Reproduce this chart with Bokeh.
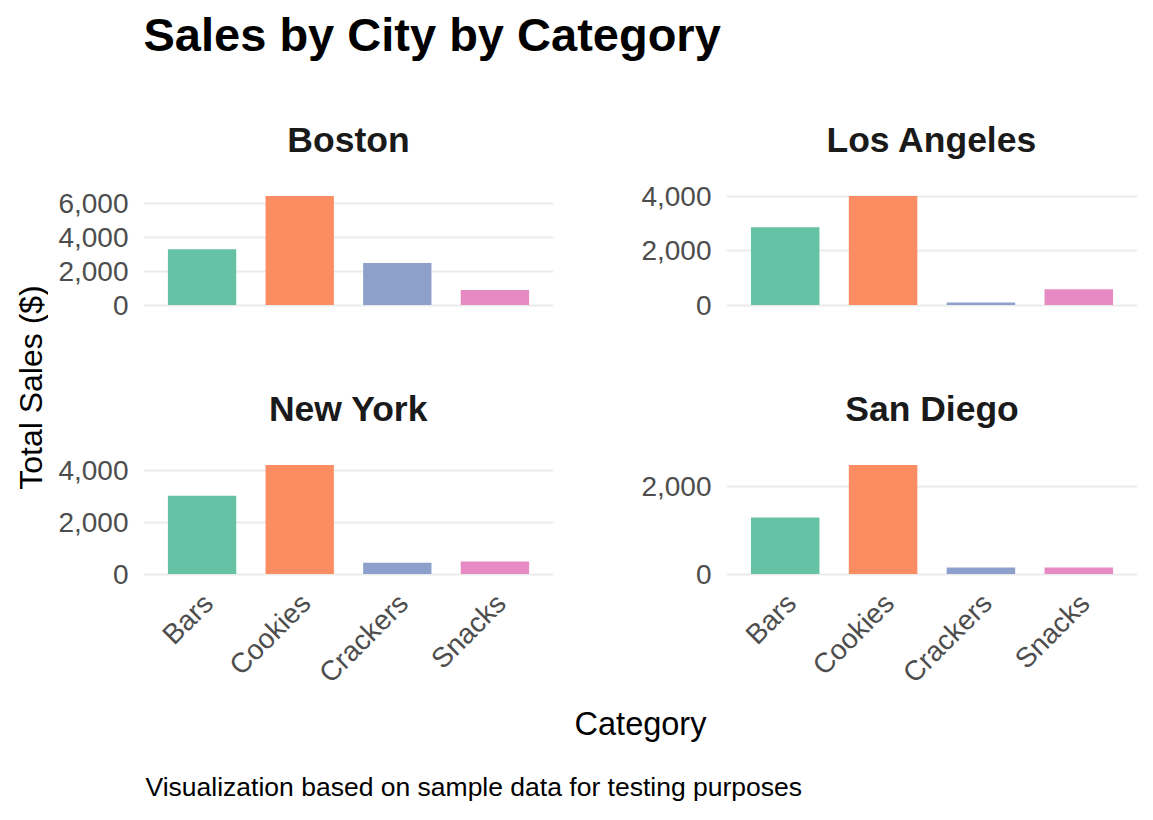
import math
from bokeh.plotting import figure
from bokeh.layouts import row, column
from bokeh.models import (Range1d, FixedTicker, NumeralTickFormatter,
                          ColumnDataSource, LinearAxis)
from bokeh.core.properties import value
from bokeh.embed import file_html
from bokeh.resources import INLINE

# ---- data ----
categories = ["Bars", "Cookies", "Crackers", "Snacks"]
cities = ["Boston", "Los Angeles", "New York", "San Diego"]
boston = [3300, 6450, 2490, 890]
los_angeles = [2860, 4010, 90, 580]
new_york = [3030, 4220, 440, 490]
san_diego = [1290, 2490, 150, 150]
colors = ["#66C2A5", "#FC8D62", "#8DA0CB", "#E78AC3"]
ticks_boston = [0, 2000, 4000, 6000]
ticks_los_angeles = [0, 2000, 4000]
ticks_new_york = [0, 2000, 4000]
ticks_san_diego = [0, 2000]

title_text = "Sales by City by Category"
y_label = "Total Sales ($)"
x_label = "Category"
caption = "Visualization based on sample data for testing purposes"

FONT = "Liberation Sans"
TICK_COLOR = "#4d4d4d"


def panel(city, vals, ticks, show_x, bl, br, bt, bb, fw, fh):
    ymax = max(vals)
    n = len(categories)
    pos = [i + 0.5 for i in range(n)]          # category slots on the x scale
    p = figure(
        x_range=Range1d(-0.1, n + 0.1),
        y_range=Range1d(-0.05 * ymax, 1.05 * ymax),
        width=bl + fw + br, height=bt + fh + bb,
        min_border_left=bl, min_border_right=br,
        min_border_top=bt, min_border_bottom=bb,
        output_backend="svg", toolbar_location=None, title=city,
    )
    p.outline_line_color = None
    p.background_fill_color = "white"
    p.border_fill_color = "white"
    p.title.text_font = FONT
    p.title.text_font_size = "35.5px"
    p.title.text_font_style = "bold"
    p.title.text_color = "#1a1a1a"
    p.title.align = "center"
    p.title.standoff = 61

    src = ColumnDataSource(dict(x=pos, cat=categories, val=vals, color=colors))
    p.vbar(x="x", top="val", bottom=0, width=0.7, fill_color="color",
           line_color=None, source=src)

    p.xgrid.visible = False
    p.ygrid.grid_line_color = "#ebebeb"
    p.ygrid.grid_line_width = 2
    p.ygrid.minor_grid_line_color = None

    ya = p.yaxis[0]
    ya.ticker = FixedTicker(ticks=ticks)
    ya.formatter = NumeralTickFormatter(format="0,0")
    ya.axis_line_color = None
    ya.major_tick_line_color = None
    ya.minor_tick_line_color = None
    ya.major_label_text_font = FONT
    ya.major_label_text_font_size = "28px"
    ya.major_label_text_color = TICK_COLOR
    ya.major_label_standoff = 9

    p.xaxis[0].visible = False
    if show_x:
        # label axis, nudged to mimic ggplot's hjust=1 / vjust=1 rotated labels
        unit = fw / 4.2
        d = 6.0 / unit
        p.extra_x_ranges = {"lab": Range1d(-0.1 - d, n + 0.1 - d)}
        xa = LinearAxis(x_range_name="lab", ticker=FixedTicker(ticks=pos),
                        major_label_overrides={q: c for q, c in zip(pos, categories)})
        xa.axis_line_color = None
        xa.major_tick_line_color = None
        xa.minor_tick_line_color = None
        xa.major_label_orientation = math.pi / 4
        xa.major_label_text_font = FONT
        xa.major_label_text_font_size = "28px"
        xa.major_label_text_color = TICK_COLOR
        xa.major_label_standoff = 13
        p.add_layout(xa, "below")
    return p


def text_fig(w, h, x, y, text, size, style="normal", color="black", align="left",
             baseline="middle", angle=0.0):
    f = figure(width=w, height=h, x_range=Range1d(0, w), y_range=Range1d(0, h),
               min_border=0, output_backend="svg", toolbar_location=None,
               x_axis_location=None, y_axis_location=None)
    f.grid.visible = False
    f.outline_line_color = None
    f.text(x=[x], y=[y], text=[text], text_font=value(FONT), text_font_size=size,
           text_font_style=style, text_color=color, text_align=align,
           text_baseline=baseline, angle=angle)
    return f


FH = 120
TB = 108
HEAD = 82
B1 = 41
B2 = 125
p_bos = panel("Boston", boston, ticks_boston, False, 95, 20, TB, B1, 410, FH)
p_la = panel("Los Angeles", los_angeles, ticks_los_angeles, False, 153, 0, TB, B1, 411, FH)
p_ny = panel("New York", new_york, ticks_new_york, True, 95, 20, TB, B2, 410, FH)
p_sd = panel("San Diego", san_diego, ticks_san_diego, True, 153, 0, TB, B2, 411, FH)

grid_h = (TB + FH + B1) + (TB + FH + B2)
grid_bottom = HEAD + grid_h
XL_H = 746 - grid_bottom
CAP_H = 804 - 746

title_fig = text_fig(1137, HEAD, 143, HEAD - 34, title_text, "47px", style="bold")
ylab_fig = text_fig(48, grid_h, 30, grid_h - (387 - HEAD), y_label, "32px",
                    align="center", angle=math.pi / 2)
xlab_fig = text_fig(1137, XL_H, 640, XL_H - (723 - grid_bottom), x_label, "32.5px",
                    align="center")
cap_fig = text_fig(1137, CAP_H, 145, CAP_H - (786 - 746), caption, "26.5px")

layout = column(
    title_fig,
    row(ylab_fig, column(p_bos, p_ny), column(p_la, p_sd)),
    xlab_fig,
    cap_fig,
)

open("out.html", "w").write(file_html(layout, INLINE))
